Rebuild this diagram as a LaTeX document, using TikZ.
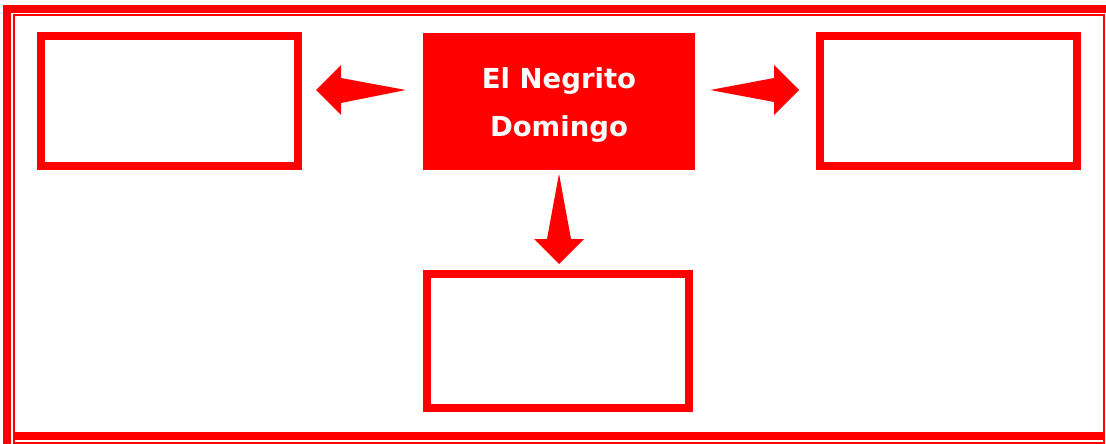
\documentclass[tikz,border=0pt]{standalone}
\usepackage{fontspec}
\setmainfont{DejaVu Sans}
\usetikzlibrary{calc}
\definecolor{pred}{RGB}{255,0,0}
\tikzset{
  framebox/.style={draw=pred, line width=8pt, inner sep=0pt, fill=white},
  mainbox/.style={fill=pred, inner sep=0pt},
  maintext/.style={inner sep=0pt, text=white, align=center,
    font=\bfseries\fontsize{27.5}{48}\selectfont},
  bigarrow/.style={fill=pred, draw=none}
}
\begin{document}
\begin{tikzpicture}[x=1pt,y=-1pt]
\useasboundingbox (0,0) rectangle (1106,444);
\fill[white] (0,0) rectangle (1106,444);
% outer double frame
\fill[pred] (3,5) rectangle (11,444);
\fill[pred] (3,5) rectangle (1106,13);
\fill[pred] (15,432) rectangle (1103,440);
\draw[pred, line width=2pt] (14,15) rectangle (1104,443);
% boxes
\node[mainbox, minimum width=272pt, minimum height=137pt] (c) at (559,101.5) {};
\node[maintext] (ct) at ($(c.center)+(0,3.5)$) {El Negrito\\Domingo};
\node[framebox, minimum width=257pt, minimum height=130pt] (l) at (169.5,101) {};
\node[framebox, minimum width=257pt, minimum height=130pt] (r) at (948.5,101) {};
\node[framebox, minimum width=262pt, minimum height=134pt] (b) at (558,341) {};
% arrows
\coordinate (lt) at ($(c.west)+(-17,-11.5)$);
\coordinate (lp) at ($(l.east)+(14,-11)$);
\fill[bigarrow] (lt) -- ($(lp)+(25,-12)$) -- ($(lp)+(25,-25)$) -- (lp)
  -- ($(lp)+(25,25)$) -- ($(lp)+(25,13)$) -- cycle;
\coordinate (rt) at ($(c.east)+(15,-11.5)$);
\coordinate (rp) at ($(r.west)+(-17,-11)$);
\fill[bigarrow] (rt) -- ($(rp)+(-25,-12)$) -- ($(rp)+(-25,-25)$) -- (rp)
  -- ($(rp)+(-25,25)$) -- ($(rp)+(-25,12)$) -- cycle;
\coordinate (dt) at ($(c.south)+(0,3.5)$);
\coordinate (dp) at ($(b.north)+(1,-6)$);
\fill[bigarrow] (dt) -- ($(dp)+(12,-25)$) -- ($(dp)+(25,-25)$) -- (dp)
  -- ($(dp)+(-25,-25)$) -- ($(dp)+(-12,-25)$) -- cycle;
\end{tikzpicture}
\end{document}
